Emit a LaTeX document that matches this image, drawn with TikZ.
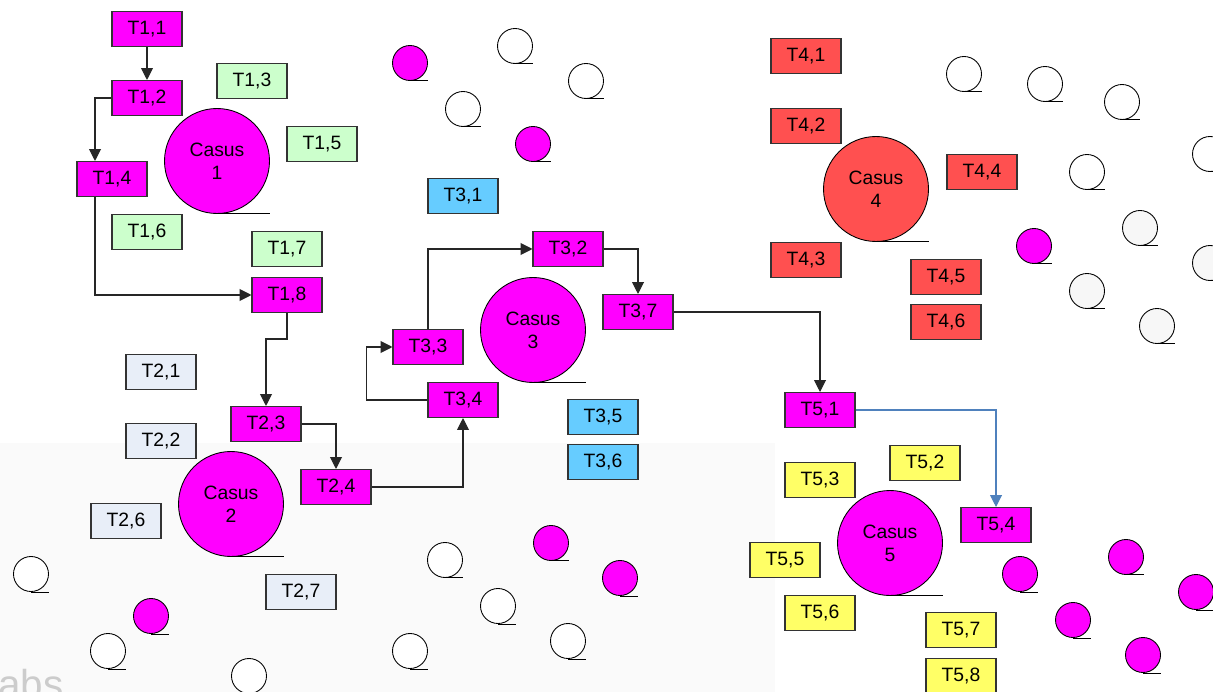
\documentclass[tikz,border=0pt]{standalone}
\usepackage{fontspec}
\setmainfont{Liberation Sans}
\usetikzlibrary{arrows.meta}
\definecolor{casmag}{RGB}{255,0,255}
\definecolor{casgreen}{RGB}{204,255,204}
\definecolor{caspale}{RGB}{232,238,248}
\definecolor{cascyan}{RGB}{102,204,255}
\definecolor{casred}{RGB}{255,80,80}
\definecolor{casyellow}{RGB}{255,255,102}
\definecolor{casblue}{RGB}{79,129,189}

\begin{document}
\begin{tikzpicture}[x=0.02cm,y=-0.02cm,
   task/.style={draw=black!80,line width=0.6pt,minimum width=1.4cm,minimum height=0.7cm,inner sep=0pt,font=\fontsize{11}{13}\selectfont},
   flow/.style={task,fill=casmag},
   side1/.style={task,fill=casgreen},
   side2/.style={task,fill=caspale},
   side3/.style={task,fill=cascyan},
   side4/.style={task,fill=casred},
   side5/.style={task,fill=casyellow},
   casus/.style={circle,draw,line width=0.5pt,minimum size=2.1cm,inner sep=0pt,align=center,font=\fontsize{11}{13}\selectfont},
   dot/.style={circle,draw,line width=0.5pt,minimum size=0.7cm,inner sep=0pt},
   link/.style={-{Triangle[width=6.8pt,length=6.8pt]},line width=0.6pt,color=black!85},
   bluelink/.style={link,color=casblue}]
\useasboundingbox (0,0) rectangle (1213,692);
\fill[black!2] (0,443) rectangle (775,692);
\begin{scope}
\clip (0,0) rectangle (1213,692);
\node [anchor=base west,text=black!20,font=\fontsize{23}{23}\selectfont] at (-8,698) (wm) {abs};
\end{scope}
%
       \node [flow] at (147,29) (t11) {T1,1};
          \node [flow] at (147,98) (t12) {T1,2};
             \node [flow] at (112,179) (t14) {T1,4};
               \node [flow] at (287,295) (t18) {T1,8};
       \node [side1] at (252,81) (t13) {T1,3};
          \node [side1] at (322,144) (t15) {T1,5};
             \node [side1] at (147,232) (t16) {T1,6};
               \node [side1] at (287,249) (t17) {T1,7};
                 \node [casus,fill=casmag] at (217,161) (casus1) {Casus\\1};
%
       \node [flow] at (266,424) (t23) {T2,3};
          \node [flow] at (336,487) (t24) {T2,4};
       \node [side2] at (161,372) (t21) {T2,1};
          \node [side2] at (161,441) (t22) {T2,2};
             \node [side2] at (126,521) (t26) {T2,6};
               \node [side2] at (301,592) (t27) {T2,7};
                 \node [casus,fill=casmag] at (231,504) (casus2) {Casus\\2};
%
       \node [flow] at (568,249) (t32) {T3,2};
          \node [flow] at (428,347) (t33) {T3,3};
             \node [flow] at (463,400) (t34) {T3,4};
               \node [flow] at (638,312) (t37) {T3,7};
       \node [side3] at (463,196) (t31) {T3,1};
          \node [side3] at (603,417) (t35) {T3,5};
             \node [side3] at (603,462) (t36) {T3,6};
                 \node [casus,fill=casmag] at (533,330) (casus3) {Casus\\3};
%
       \node [side4] at (806,56) (t41) {T4,1};
          \node [side4] at (806,126) (t42) {T4,2};
             \node [side4] at (806,260) (t43) {T4,3};
               \node [side4] at (982,172) (t44) {T4,4};
                \node [side4] at (946,277) (t45) {T4,5};
                 \node [side4] at (946,322) (t46) {T4,6};
                 \node [casus,fill=casred] at (876,189) (casus4) {Casus\\4};
%
       \node [flow] at (820,410) (t51) {T5,1};
          \node [flow] at (996,525) (t54) {T5,4};
       \node [side5] at (925,463) (t52) {T5,2};
          \node [side5] at (820,480) (t53) {T5,3};
             \node [side5] at (785,560) (t55) {T5,5};
               \node [side5] at (820,613) (t56) {T5,6};
                \node [side5] at (961,630) (t57) {T5,7};
                 \node [side5] at (961,676) (t58) {T5,8};
                 \node [casus,fill=casmag] at (890,543) (casus5) {Casus\\5};
%
\foreach \n in {casus1,casus2,casus3,casus4,casus5}
   \draw[line width=0.5pt] (\n.south) -- (\n.south -| \n.east);
%
\foreach \x/\y [count=\i] in {410/63,533/144,1034/246,151/616,551/543,620/578,1020/574,1126/557,1196/592,1073/620,1143/655} {
   \node [dot,fill=casmag] at (\x,\y) (m\i) {};
   \draw[line width=0.5pt] (m\i.south) -- (m\i.south -| m\i.east);
}
\foreach \x/\y [count=\i] in {515/46,586/81,463/109,964/74,1045/84,1122/102,1210/154,1087/172,31/574,108/651,249/676,445/560,498/606,568/641,410/651} {
   \node [dot,fill=white] at (\x,\y) (w\i) {};
   \draw[line width=0.5pt] (w\i.south) -- (w\i.south -| w\i.east);
}
\foreach \x/\y [count=\i] in {1140/228,1210/263,1087/291,1157/326} {
   \node [dot,fill=black!3] at (\x,\y) (g\i) {};
   \draw[line width=0.5pt] (g\i.south) -- (g\i.south -| g\i.east);
}
%
\draw[link] (t11) -- (t12);
\draw[link] (t12.west) -| ([xshift=-0.34cm]t14.north);
\draw[link] ([xshift=-0.34cm]t14.south) |- (t18.west);
\draw[link] (t18.south) -- ++(0,26) -| (t23.north);
\draw[link] (t23.east) -| (t24.north);
\draw[link] (t24.east) -| (t34.south);
\draw[link] (t34.west) -- ++(-61,0) |- (t33.west);
\draw[link] (t33.north) |- (t32.west);
\draw[link] (t32.east) -| (t37.north);
\draw[link] (t37.east) -| (t51.north);
\draw[bluelink] (t51.east) -| (t54.north);

\end{tikzpicture}
\end{document}
